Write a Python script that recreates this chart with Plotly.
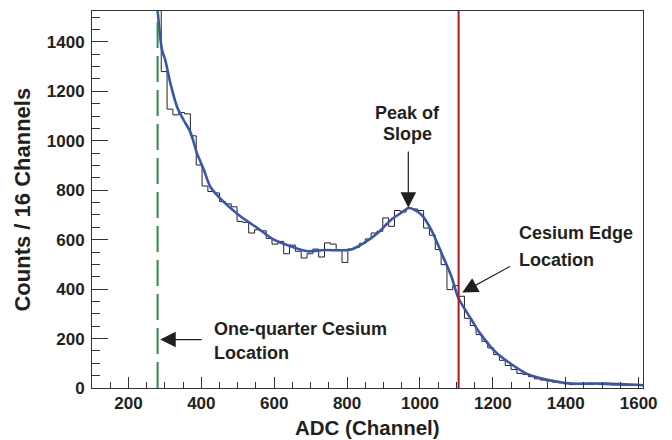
import plotly.graph_objects as go

# ---- data ----
BIN_WIDTH = 16
FIRST_BIN_LEFT = 274
counts = [1700, 1280, 1128, 1105, 1114, 1109, 1020, 902, 817, 795, 789,
          754, 745, 733, 674, 670, 627, 640, 636, 605, 582,
          593, 543, 578, 553, 526, 543, 562, 530, 587, 582,
          560, 508, 562, 569, 585, 603, 627, 634, 688, 654,
          718, 712, 728, 724, 718, 647, 618, 560, 499, 398,
          414, 371, 282, 253, 216, 189, 162, 135, 112, 91,
          75, 59, 55, 46, 37, 32, 28, 24, 21, 17,
          14, 16, 19, 19, 17, 14, 13, 12, 12, 11,
          11, 11, 10]

fit_x = [276, 292, 301, 315, 333, 351, 370, 388, 407, 425, 453, 480, 508,
         554, 599, 645, 691, 737, 783, 811, 847, 884, 921, 948, 971, 1004,
         1031, 1059, 1086, 1105, 1141, 1164, 1205, 1252, 1297, 1371, 1417,
         1509, 1614]
fit_y = [1600, 1368, 1327, 1233, 1139, 1085, 1035, 950, 883, 813, 765, 728,
         694, 647, 600, 573, 553, 558, 557, 560, 587, 627, 681, 708, 728,
         701, 640, 546, 452, 365, 277, 223, 149, 95, 55, 27, 18, 18, 11]

QUARTER_CS = 280
CS_EDGE = 1106

x_ticks = [200, 400, 600, 800, 1000, 1200, 1400, 1600]
y_ticks = [0, 200, 400, 600, 800, 1000, 1200, 1400]
X_RANGE = [100, 1612]
Y_RANGE = [0, 1525]

X_TITLE = "ADC (Channel)"
Y_TITLE = "Counts / 16 Channels"

# step outline built from bin edges
edges = [FIRST_BIN_LEFT + BIN_WIDTH * i for i in range(len(counts) + 1)]
step_y = counts + [counts[-1]]

FONT = "Liberation Sans"
INK = "#231f20"

fig = go.Figure()
fig.add_trace(go.Scatter(x=edges, y=step_y, mode="lines", line_shape="hv",
                         line=dict(color="#222222", width=1), showlegend=False,
                         hoverinfo="skip"))
fig.add_trace(go.Scatter(x=fit_x, y=fit_y, mode="lines", line_shape="spline",
                         line=dict(color="#3a55b0", width=2.6, smoothing=0.8),
                         showlegend=False))

fig.add_shape(type="line", xref="x", yref="paper", x0=QUARTER_CS, x1=QUARTER_CS,
              y0=0, y1=1, line=dict(color="#2e8a48", width=2, dash="26px,8px"))
fig.add_shape(type="line", xref="x", yref="paper", x0=CS_EDGE, x1=CS_EDGE,
              y0=0, y1=1, line=dict(color="#a81c1c", width=2))

afont = dict(family=FONT, size=18, color=INK, weight="bold")
texts = [
    ("Peak of", 965, 1113, "center"),
    ("Slope", 965, 1026, "center"),
    ("Cesium Edge", 1266, 628, "left"),
    ("Location", 1266, 519, "left"),
    ("One-quarter Cesium", 428, 240, "left"),
    ("Location", 428, 143, "left"),
]
for t, x, y, anchor in texts:
    fig.add_annotation(x=x, y=y, text=t, showarrow=False, xanchor=anchor,
                       yanchor="middle", font=afont)

arrows = [
    # tip x, tip y, tail x, tail y
    (968, 729, 968, 963),
    (1116, 386, 1251, 495),
    (287, 196, 405, 196),
]
for x, y, ax, ay in arrows:
    fig.add_annotation(x=x, y=y, ax=ax, ay=ay, axref="x", ayref="y", text="",
                       showarrow=True, arrowhead=2, arrowsize=2.6,
                       arrowwidth=1.2, arrowcolor=INK, standoff=0)

# axis titles
fig.add_annotation(xref="paper", yref="paper", x=0.5, y=-51.5 / 377,
                   text=X_TITLE, showarrow=False, xanchor="center",
                   yanchor="bottom", borderpad=0,
                   font=dict(family=FONT, size=20.5, color=INK, weight="bold"))
fig.add_annotation(xref="paper", yref="paper", x=-0.127, y=0.5, text=Y_TITLE,
                   showarrow=False, xanchor="center", yanchor="middle",
                   textangle=-90,
                   font=dict(family=FONT, size=22, color=INK, weight="bold"))

tickfont = dict(family=FONT, size=17, color=INK, weight="bold")

fig.update_xaxes(range=X_RANGE, tickvals=x_ticks, ticks="inside", ticklen=11,
                 tickwidth=1, tickcolor="#333", showline=True, linecolor="#333",
                 linewidth=1, mirror=True, showgrid=False, zeroline=False,
                 tickfont=tickfont, ticklabelstandoff=0, automargin=False,
                 minor=dict(dtick=50, tick0=0, ticks="inside", ticklen=6,
                            tickcolor="#333", showgrid=False))
fig.update_yaxes(range=Y_RANGE, tickvals=y_ticks, ticks="inside", ticklen=16,
                 tickwidth=1, tickcolor="#333", showline=True, linecolor="#333",
                 linewidth=1, mirror=True, showgrid=False, zeroline=False,
                 tickfont=tickfont, ticklabelstandoff=3, automargin=False,
                 minor=dict(dtick=50, tick0=0, ticks="inside", ticklen=8,
                            tickcolor="#333", showgrid=False))

fig.update_layout(width=672, height=440, margin=dict(l=92, r=29, t=11, b=52),
                  plot_bgcolor="white", paper_bgcolor="white",
                  font=dict(family=FONT))

fig.write_html("out.html")
